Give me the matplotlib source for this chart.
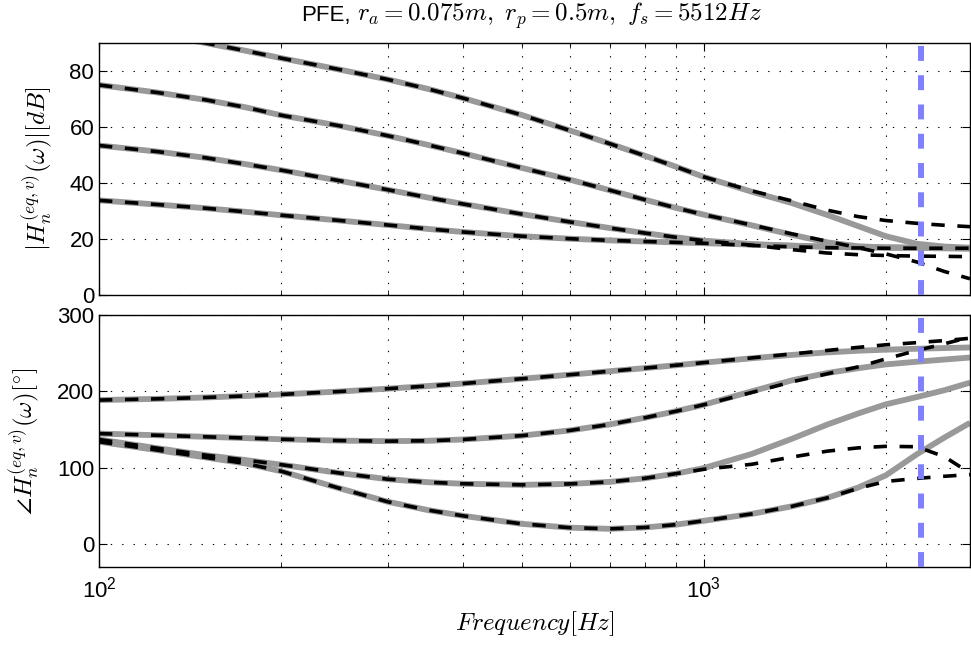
import matplotlib
matplotlib.use("Agg")
import matplotlib.pyplot as plt
from matplotlib.ticker import LogLocator, NullFormatter, FixedLocator

plt.rcParams['font.family'] = ['Liberation Sans', 'DejaVu Sans']
plt.rcParams['mathtext.fontset'] = 'cm'

# Frequency grid (Hz)
freq = [100, 125, 150, 175, 200, 250, 300, 350, 400, 500, 600, 700, 800, 900, 1000,
        1200, 1400, 1600, 1800, 2000, 2250, 2500, 2756]

# Magnitude (dB) - reference (gray) curves
mag_ref1 = [96.5, 93.2, 90.0, 87.2, 84.6, 80.5, 77.0, 73.6, 70.3, 64.3, 58.8, 54.0, 49.7, 45.8, 42.2,
            36.9, 32.8, 28.6, 24.6, 21.0, 18.3, 17.3, 16.9]
mag_ref2 = [75.0, 72.3, 69.7, 67.0, 64.2, 60.4, 56.9, 53.6, 50.6, 45.4, 41.2, 37.4, 34.0, 31.1, 28.7,
            24.9, 21.5, 18.8, 17.4, 17.0, 16.8, 16.7, 16.6]
mag_ref3 = [53.4, 51.2, 49.0, 46.7, 44.6, 40.8, 37.6, 34.8, 32.5, 28.9, 26.1, 23.9, 22.1, 20.6, 19.4,
            18.2, 17.6, 17.2, 17.0, 16.9, 16.8, 16.7, 16.6]
mag_ref4 = [33.8, 32.3, 31.0, 29.7, 28.5, 26.6, 25.0, 23.6, 22.5, 21.0, 20.1, 19.5, 19.1, 18.8, 18.5,
            18.0, 17.6, 17.3, 17.1, 17.0, 16.9, 16.8, 16.7]

# Magnitude (dB) - approximated (dashed) curves
mag_apx1 = [96.5, 93.2, 90.0, 87.2, 84.6, 80.5, 77.0, 73.6, 70.3, 64.3, 58.8, 54.0, 49.7, 45.8, 42.2,
            37.2, 33.6, 30.3, 28.0, 26.6, 25.6, 24.9, 24.4]
mag_apx2 = [75.0, 72.3, 69.7, 67.0, 64.2, 60.4, 56.9, 53.6, 50.6, 45.4, 41.2, 37.4, 34.0, 31.1, 28.7,
            25.0, 21.8, 19.2, 16.9, 14.7, 11.8, 8.4, 5.8]
mag_apx3 = [53.4, 51.2, 49.0, 46.7, 44.6, 40.8, 37.6, 34.8, 32.5, 28.9, 26.1, 23.9, 22.1, 20.6, 19.4,
            17.8, 16.2, 15.0, 14.4, 14.1, 13.9, 13.8, 13.7]
mag_apx4 = [33.8, 32.3, 31.0, 29.7, 28.5, 26.6, 25.0, 23.6, 22.5, 21.0, 20.1, 19.5, 19.1, 18.8, 18.5,
            17.7, 17.2, 16.9, 16.8, 16.7, 16.7, 16.7, 16.7]

# Phase (deg) - reference (gray) curves
ph_ref1 = [188.6, 190.2, 192.0, 194.0, 196.0, 199.8, 203.5, 207.0, 210.3, 216.5, 221.8, 226.4, 230.5, 234.2, 237.6,
           243.3, 247.8, 251.0, 253.2, 254.6, 255.8, 256.7, 257.5]
ph_ref2 = [144.7, 142.5, 140.5, 138.8, 137.3, 135.5, 134.8, 135.3, 137.0, 142.0, 148.8, 156.8, 165.5, 174.0, 182.5,
           200.0, 214.5, 224.0, 230.3, 235.3, 238.8, 241.7, 244.3]
ph_ref3 = [137.0, 125.5, 116.5, 110.0, 104.0, 93.0, 85.0, 81.0, 79.0, 77.6, 78.8, 81.5, 86.2, 92.3, 99.5,
           118.0, 138.0, 156.5, 171.0, 183.0, 192.5, 201.5, 211.4]
ph_ref4 = [134.0, 123.0, 113.5, 105.5, 95.5, 73.0, 55.5, 44.5, 37.0, 26.5, 21.5, 20.0, 21.8, 25.5, 30.5,
           39.5, 49.5, 60.5, 74.0, 90.0, 117.5, 139.5, 158.8]

# Phase (deg) - approximated (dashed) curves
ph_apx1 = [188.6, 190.2, 192.0, 194.0, 196.0, 199.8, 203.5, 207.0, 210.3, 216.5, 221.8, 226.4, 230.5, 234.2, 237.6,
           243.8, 249.0, 253.6, 257.6, 261.0, 263.8, 266.5, 269.5]
ph_apx2 = [144.7, 142.5, 140.5, 138.8, 137.3, 135.5, 134.8, 135.3, 137.0, 142.0, 148.8, 156.8, 165.5, 174.0, 182.5,
           198.5, 212.5, 223.0, 232.0, 242.5, 253.5, 262.3, 271.0]
ph_apx3 = [137.0, 125.5, 116.5, 110.0, 104.0, 93.0, 85.0, 81.0, 79.0, 77.6, 78.8, 81.5, 86.2, 92.3, 98.0,
           104.5, 114.0, 121.7, 126.0, 128.0, 127.5, 114.5, 93.0]
ph_apx4 = [134.0, 123.0, 113.5, 105.5, 95.5, 73.0, 55.5, 44.5, 37.0, 26.5, 21.5, 20.0, 21.8, 25.5, 30.5,
           39.5, 49.5, 60.5, 73.0, 82.0, 86.0, 88.8, 91.0]

f_alias = 2287.0   # vertical marker frequency (Hz)
f_max = 2756.0

mag_ref = [mag_ref1, mag_ref2, mag_ref3, mag_ref4]
mag_apx = [mag_apx1, mag_apx2, mag_apx3, mag_apx4]
ph_ref = [ph_ref1, ph_ref2, ph_ref3, ph_ref4]
ph_apx = [ph_apx1, ph_apx2, ph_apx3, ph_apx4]

W, H = 971, 646
fig = plt.figure(figsize=(W / 100, H / 100), dpi=100)
left = 99 / W
width = (970 - 99) / W
ax1 = fig.add_axes([left, 1 - 295 / H, width, (295 - 43) / H])
ax2 = fig.add_axes([left, 1 - 567 / H, width, (567 - 315) / H])

gray = '#999999'
grid_ls = (0, (1.2, 9))
for ax, refs, apxs in [(ax1, mag_ref, mag_apx), (ax2, ph_ref, ph_apx)]:
    for r in refs:
        ax.plot(freq, r, color=gray, lw=4.2, solid_capstyle='butt',
                solid_joinstyle='round', zorder=2)
    for a in apxs:
        ax.plot(freq, a, color='black', lw=2.6, linestyle=(0, (3.7, 3.5)),
                dash_capstyle='butt', zorder=3)
    ax.axvline(f_alias, color='#8080ff', lw=4.3, linestyle=(0, (2.5, 2.4)), zorder=4)
    ax.set_xscale('log')
    ax.set_xlim(100, f_max)
    ax.xaxis.set_major_locator(FixedLocator([100, 1000]))
    ax.xaxis.set_minor_locator(LogLocator(base=10, subs=range(2, 10), numticks=20))
    ax.xaxis.set_minor_formatter(NullFormatter())
    ax.grid(True, which='major', color='black', linestyle=grid_ls, lw=0.8)
    ax.grid(True, which='minor', axis='x', color='black', linestyle=grid_ls, lw=0.8)
    ax.tick_params(which='both', direction='in', top=True, right=True, labelsize=16)
    ax.tick_params(which='major', length=6, width=0.8)
    ax.tick_params(which='minor', length=3.5, width=0.6)
    for s in ax.spines.values():
        s.set_linewidth(1.0)

ax1.set_ylim(0, 90)
ax1.set_yticks([0, 20, 40, 60, 80])
ax1.tick_params(axis='x', which='both', labelbottom=False)
ax2.set_ylim(-30, 300)
ax2.set_yticks([0, 100, 200, 300])
ax2.tick_params(axis='x', pad=7)

fig.text(351 / W, 1 - 21 / H, 'PFE,', fontsize=16, ha='right', va='baseline')
fig.text(357 / W, 1 - 21 / H, r'$r_a = 0.075m,\ r_p = 0.5m,\ f_s = 5512Hz$',
         fontsize=18, ha='left', va='baseline')

ax1.set_ylabel(r'$|H_n^{(eq,v)}(\omega)|[dB]$', fontsize=18)
ax2.set_ylabel(r'$\angle H_n^{(eq,v)}(\omega)[^{\circ}]$', fontsize=18)
ax1.yaxis.set_label_coords(-44 / 871, 0.5)
ax2.yaxis.set_label_coords(-57 / 871, 0.5)
ax2.set_xlabel(r'$Frequency[Hz]$', fontsize=18, labelpad=5)

fig.savefig('out.png', dpi=100)
